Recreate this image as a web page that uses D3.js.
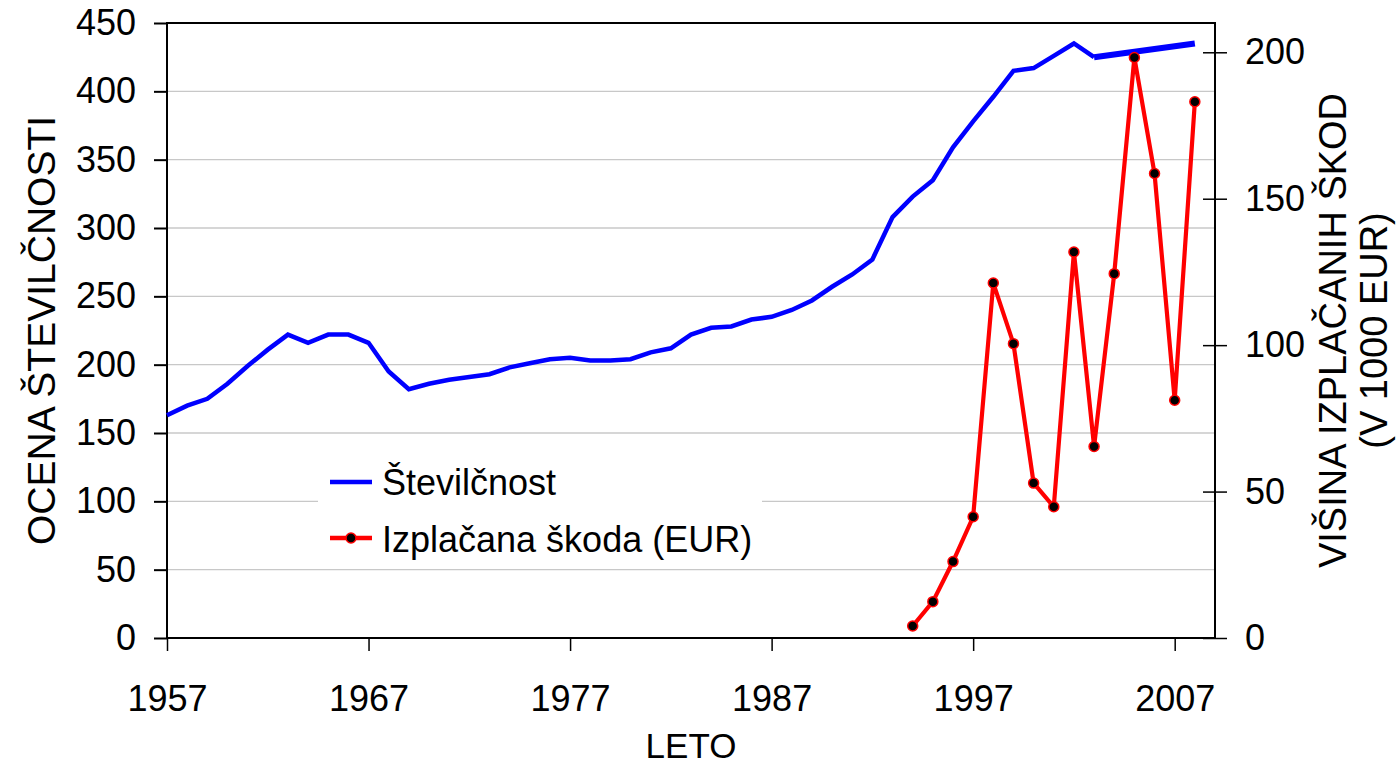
<!DOCTYPE html>
<html>
<head>
<meta charset="utf-8">
<script src="https://cdn.jsdelivr.net/npm/d3@7"></script>
<style>
  body { margin: 0; background: #fff; }
  text { font-family: "Liberation Sans", Arial, sans-serif; fill: #000; }
</style>
</head>
<body>
<div id="chart"></div>
<script>
// data
const years = [1957, 1958, 1959, 1960, 1961, 1962, 1963, 1964, 1965, 1966, 1967, 1968, 1969, 1970,
  1971, 1972, 1973, 1974, 1975, 1976, 1977, 1978, 1979, 1980, 1981, 1982, 1983, 1984, 1985, 1986,
  1987, 1988, 1989, 1990, 1991, 1992, 1993, 1994, 1995, 1996, 1997, 1998, 1999, 2000, 2001, 2002, 2003];
const stevilcnost = [163, 170, 175, 186, 199, 211, 222, 216, 222, 222, 216, 195, 182, 186,
  189, 191, 193, 198, 201, 204, 205, 203, 203, 204, 209, 212, 222, 227, 228, 233,
  235, 240, 247, 257, 266, 277, 308, 323, 335, 359, 378, 396, 415, 417, 426, 435, 425];

// the thicker straight piece at the end of the blue line
const trendYears = [2003, 2008];
const trendValues = [425, 435];

const skodaYears = [1994, 1995, 1996, 1997, 1998, 1999, 2000, 2001, 2002, 2003, 2004, 2005, 2006, 2007, 2008];
const skoda = [4.1, 12.4, 26.1, 41.4, 121.2, 100.5, 52.9, 44.8, 131.8, 65.4, 124.4, 198.2, 158.6, 81.2, 183.1];

const leftTicks = [0, 50, 100, 150, 200, 250, 300, 350, 400, 450];
const rightTicks = [0, 50, 100, 150, 200];
const xTicks = [1957, 1967, 1977, 1987, 1997, 2007];

const width = 1399, height = 766;
const plotLeft = 167, plotRight = 1215, plotTop = 23, plotBottom = 638;

const svg = d3.select("#chart").append("svg")
  .attr("width", width)
  .attr("height", height);

const x = d3.scaleLinear().domain([1957, 2009]).range([plotLeft, plotRight]);
const yL = d3.scaleLinear().domain([0, 450]).range([plotBottom, plotTop]);
const yR = d3.scaleLinear().domain([0, 210]).range([plotBottom, plotTop]);

// gridlines
svg.append("g")
  .selectAll("line")
  .data(leftTicks.slice(1, -1))
  .join("line")
  .attr("x1", plotLeft).attr("x2", plotRight)
  .attr("y1", d => yL(d)).attr("y2", d => yL(d))
  .attr("stroke", "#c8c8c8")
  .attr("stroke-width", 1.3);

// left axis
const gL = svg.append("g")
  .attr("transform", "translate(" + plotLeft + ",0)")
  .call(d3.axisLeft(yL).tickValues(leftTicks).tickSizeOuter(0).tickSize(13).tickPadding(18));
gL.select(".domain").remove();
gL.selectAll("text").style("font-size", "36px");
gL.selectAll("line").attr("stroke-width", 2);

// right axis, ticks cross the line
const gR = svg.append("g")
  .attr("transform", "translate(" + plotRight + ",0)")
  .call(d3.axisRight(yR).tickValues(rightTicks).tickSizeOuter(0).tickSize(12).tickPadding(18));
gR.select(".domain").remove();
gR.selectAll(".tick line").attr("x1", -12).attr("stroke-width", 1.5);
gR.selectAll("text").style("font-size", "36px");

// bottom axis
const gB = svg.append("g")
  .attr("transform", "translate(0," + plotBottom + ")")
  .call(d3.axisBottom(x).tickValues(xTicks).tickFormat(d3.format("d")).tickSizeOuter(0).tickSize(13).tickPadding(34));
gB.select(".domain").remove();
gB.selectAll("text").style("font-size", "36px");
gB.selectAll("line").attr("stroke-width", 1.5);

// plot frame
svg.append("rect")
  .attr("x", plotLeft).attr("y", plotTop)
  .attr("width", plotRight - plotLeft).attr("height", plotBottom - plotTop)
  .attr("fill", "none")
  .attr("stroke", "#000")
  .attr("stroke-width", 2);

// axis titles
svg.append("text")
  .attr("transform", "translate(55," + (plotTop + plotBottom) / 2 + ") rotate(-90)")
  .attr("text-anchor", "middle")
  .style("font-size", "39px")
  .text("OCENA ŠTEVILČNOSTI");

svg.append("text")
  .attr("x", (plotLeft + plotRight) / 2).attr("y", 758)
  .attr("text-anchor", "middle")
  .style("font-size", "35px")
  .text("LETO");

const rt = svg.append("text")
  .attr("transform", "translate(1346," + (plotTop + plotBottom) / 2 + ") rotate(-90)")
  .attr("text-anchor", "middle")
  .style("font-size", "38px");
rt.append("tspan").attr("x", 0).attr("dy", 0).text("VIŠINA IZPLAČANIH ŠKOD");
rt.append("tspan").attr("x", 0).attr("dy", 41).text("(V 1000 EUR)");

// lines
const line = d3.line();

svg.append("path")
  .attr("d", line(years.map((yr, i) => [x(yr), yL(stevilcnost[i])])))
  .attr("fill", "none")
  .attr("stroke", "#0000ff")
  .attr("stroke-width", 4.5)
  .attr("stroke-linejoin", "miter");

svg.append("path")
  .attr("d", line(trendYears.map((yr, i) => [x(yr), yL(trendValues[i])])))
  .attr("fill", "none")
  .attr("stroke", "#0000ff")
  .attr("stroke-width", 6);

svg.append("path")
  .attr("d", line(skodaYears.map((yr, i) => [x(yr), yR(skoda[i])])))
  .attr("fill", "none")
  .attr("stroke", "#ff0000")
  .attr("stroke-width", 4.2)
  .attr("stroke-linejoin", "miter");

svg.append("g")
  .selectAll("circle")
  .data(skodaYears.map((yr, i) => [yr, skoda[i]]))
  .join("circle")
  .attr("cx", d => x(d[0]))
  .attr("cy", d => yR(d[1]))
  .attr("r", 5)
  .attr("fill", "#000")
  .attr("stroke", "#ff0000")
  .attr("stroke-width", 1.5);

// legend
const lg = svg.append("g");
lg.append("rect")
  .attr("x", 318).attr("y", 448)
  .attr("width", 444).attr("height", 114)
  .attr("fill", "#fff");
lg.append("line")
  .attr("x1", 330).attr("x2", 372).attr("y1", 482).attr("y2", 482)
  .attr("stroke", "#0000ff").attr("stroke-width", 4.5);
lg.append("text")
  .attr("x", 382).attr("y", 495)
  .style("font-size", "36px")
  .text("Številčnost");
lg.append("line")
  .attr("x1", 330).attr("x2", 372).attr("y1", 538).attr("y2", 538)
  .attr("stroke", "#ff0000").attr("stroke-width", 4.5);
lg.append("circle")
  .attr("cx", 351).attr("cy", 538).attr("r", 5)
  .attr("fill", "#000").attr("stroke", "#ff0000").attr("stroke-width", 1.5);
lg.append("text")
  .attr("x", 382).attr("y", 552)
  .style("font-size", "36px")
  .text("Izplačana škoda (EUR)");
</script>
</body>
</html>
